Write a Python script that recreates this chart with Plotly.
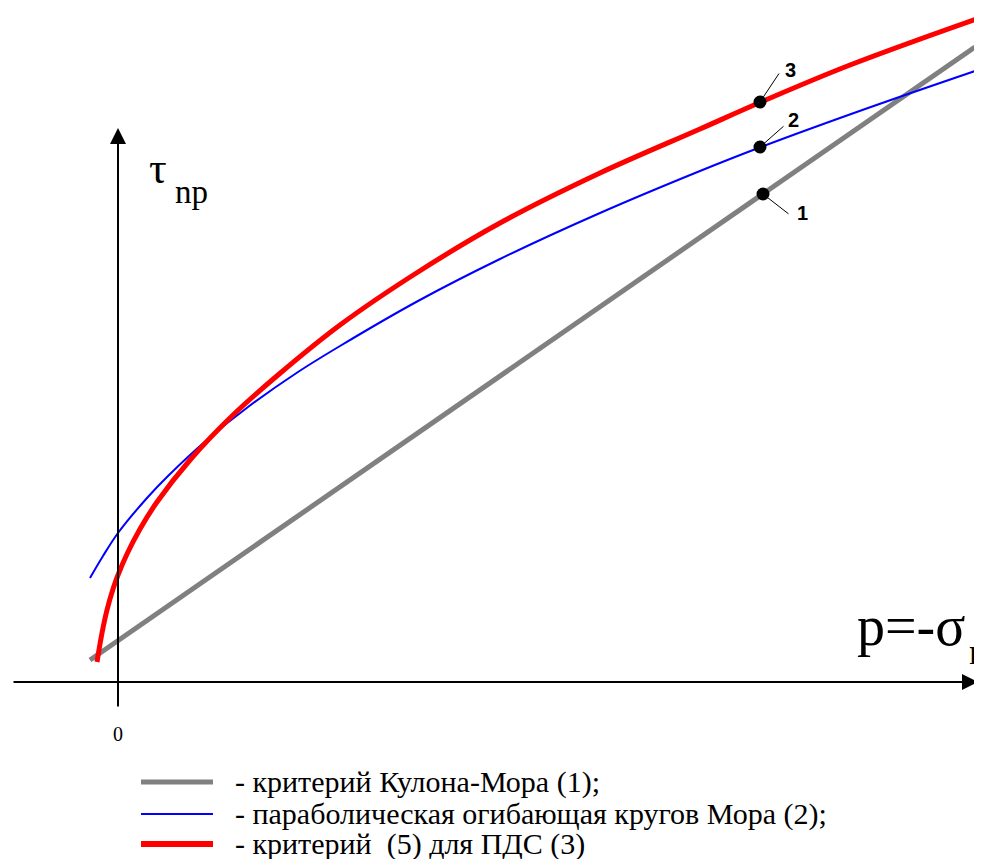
import plotly.graph_objects as go

# Data (units: p along x, tau along y; origin at the axes crossing)
p_gray = [-28, 857]
tau_gray = [22, 635]

p_blue = [-28, -15, 0, 29, 50, 90, 130, 180, 222, 300, 382, 482, 582, 643, 750, 857]
tau_blue = [104, 126, 149, 184, 206, 243, 275, 310, 336, 381, 423, 469, 511, 535, 574, 611]

p_red = [-21, -16, -11, -5, 0, 9, 22, 39, 72, 115, 160, 222, 300, 382, 482, 582, 643, 732, 864]
tau_red = [20, 49, 72, 93, 107, 128, 153, 180, 222, 267, 307, 357, 410, 459, 509, 553, 580, 617, 665]

pt_p = [645, 642, 642]
pt_tau = [488, 535, 580]
pt_labels = ["1", "2", "3"]

legend_labels = [
    "- критерий Кулона-Мора (1);",
    "- параболическая огибающая кругов Мора (2);",
    "- критерий  (5) для ПДС (3)",
]
legend_colors = ["#808080", "#0000ff", "#ff0000"]
legend_widths = [5, 2, 6]

fig = go.Figure()
fig.add_trace(go.Scatter(x=p_gray, y=tau_gray, mode="lines",
                         line=dict(color="#808080", width=5), hoverinfo="skip"))
fig.add_trace(go.Scatter(x=p_blue, y=tau_blue, mode="lines",
                         line=dict(color="#0000ff", width=2, shape="spline", smoothing=1.0),
                         hoverinfo="skip"))
fig.add_trace(go.Scatter(x=p_red, y=tau_red, mode="lines",
                         line=dict(color="#ff0000", width=5, shape="spline", smoothing=1.0),
                         hoverinfo="skip"))
fig.add_trace(go.Scatter(x=pt_p, y=pt_tau, mode="markers",
                         marker=dict(color="black", size=13), hoverinfo="skip"))

serif = "Times New Roman, Liberation Serif, serif"
ann = []
# axes arrows
ann.append(dict(x=860, y=0, ax=-106, ay=0, xref="x", yref="y", axref="x", ayref="y",
                showarrow=True, arrowhead=2, arrowsize=1.6, arrowwidth=2, arrowcolor="black", text=""))
ann.append(dict(x=0, y=554, ax=0, ay=-26, xref="x", yref="y", axref="x", ayref="y",
                showarrow=True, arrowhead=2, arrowsize=1.6, arrowwidth=2, arrowcolor="black", text=""))
# axis labels
ann.append(dict(x=29, y=514, xref="x", yref="y", text="τ", showarrow=False,
                xanchor="left", yanchor="middle", font=dict(family=serif, size=44, color="black")))
ann.append(dict(x=55, y=490, xref="x", yref="y", text="np", showarrow=False,
                xanchor="left", yanchor="middle", font=dict(family=serif, size=33, color="black")))
ann.append(dict(x=737, y=56, xref="x", yref="y", text="p=-σ", showarrow=False,
                xanchor="left", yanchor="middle", font=dict(family=serif, size=56, color="black")))
ann.append(dict(x=849, y=30, xref="x", yref="y", text="n", showarrow=False,
                xanchor="left", yanchor="middle", font=dict(family=serif, size=36, color="black")))
ann.append(dict(x=0, y=-52, xref="x", yref="y", text="0", showarrow=False,
                font=dict(family=serif, size=20, color="black")))
# point labels with leader lines
leader_ends = [(672, 467), (667, 557), (662, 610)]
label_pos = [(684, 469), (675, 562), (672, 612)]
for px, pt, lab, (ex, ey), (lx, ly) in zip(pt_p, pt_tau, pt_labels, leader_ends, label_pos):
    ann.append(dict(x=px, y=pt, ax=ex, ay=ey, xref="x", yref="y", axref="x", ayref="y",
                    showarrow=True, arrowhead=0, arrowwidth=1, arrowcolor="black", text=""))
    ann.append(dict(x=lx, y=ly, xref="x", yref="y", text="<b>" + lab + "</b>",
                    showarrow=False, font=dict(family="Liberation Sans, Arial, sans-serif",
                                               size=20, color="black"),
                    xanchor="center", yanchor="middle"))

shapes = []
leg_y = [-100, -132, -162]
for yy, lab, col, w in zip(leg_y, legend_labels, legend_colors, legend_widths):
    shapes.append(dict(type="line", xref="x", yref="y", x0=23, x1=95, y0=yy, y1=yy,
                       line=dict(color=col, width=w)))
    ann.append(dict(x=115, y=yy, xref="x", yref="y", text=lab, showarrow=False,
                    xanchor="left", yanchor="middle",
                    font=dict(family=serif, size=30, color="black")))

# page body has an 8px margin: figure is 974x851 and ranges keep the same pixel mapping
fig.update_layout(
    width=974, height=851, autosize=False,
    margin=dict(l=0, r=0, t=0, b=0),
    paper_bgcolor="white", plot_bgcolor="white",
    showlegend=False,
    xaxis=dict(range=[-110, 864], visible=False, fixedrange=True),
    yaxis=dict(range=[-177, 674], visible=False, fixedrange=True),
    annotations=ann, shapes=shapes,
)
fig.write_html("out.html")
